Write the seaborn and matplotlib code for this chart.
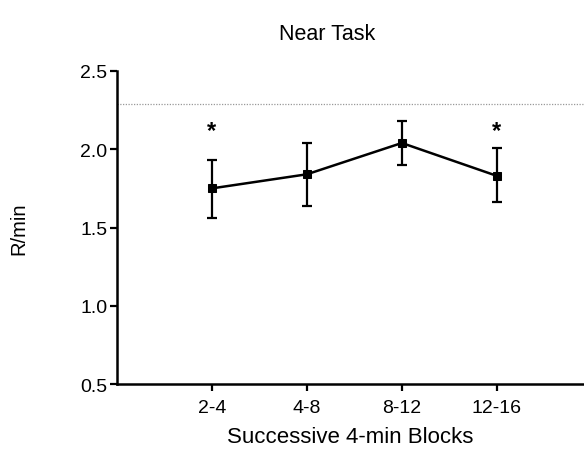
import numpy as np
import pandas as pd
import matplotlib
matplotlib.use('Agg')
import matplotlib.pyplot as plt
import seaborn as sns

# Data
blocks = ['2-4', '4-8', '8-12', '12-16']
rate = [1.75, 1.84, 2.04, 1.83]
err_low = [0.19, 0.20, 0.14, 0.17]
err_high = [0.18, 0.20, 0.14, 0.18]
significant = [True, False, False, True]
reference_level = 2.29
star_y = 2.12

sns.set_style('ticks')
plt.rcParams['font.family'] = ['Liberation Sans', 'DejaVu Sans']
plt.rcParams['text.color'] = 'black'
plt.rcParams['axes.labelcolor'] = 'black'
plt.rcParams['xtick.color'] = 'black'
plt.rcParams['ytick.color'] = 'black'

data = pd.DataFrame({'pos': np.arange(1, len(blocks) + 1), 'rate': rate})

fig = plt.figure(figsize=(5.84, 4.6), dpi=100)
ax = fig.add_axes([0.2003, 0.163, 0.80, 0.6805])

ax.axhline(reference_level, color='#999999', lw=0.9, ls=(0, (1, 1.2)), zorder=1)
ax.errorbar(data['pos'], data['rate'], yerr=[err_low, err_high], fmt='none',
            ecolor='black', elinewidth=1.6, capsize=3.5, capthick=1.6, zorder=2)
sns.lineplot(data=data, x='pos', y='rate', color='black', lw=1.8,
             marker='s', markersize=6, markeredgecolor='black', ax=ax, zorder=3)

for p, sig in zip(data['pos'], significant):
    if sig:
        ax.text(p, star_y, '*', ha='center', va='center', fontsize=17, fontweight='bold')

ax.set_xlim(0, 4.92)
ax.set_ylim(0.5, 2.5)
ax.set_xticks(data['pos'])
ax.set_xticklabels(blocks)
ax.set_yticks([0.5, 1.0, 1.5, 2.0, 2.5])
ax.tick_params(axis='both', labelsize=14, width=1.6, length=5, color='black')
ax.tick_params(axis='x', pad=6)
ax.tick_params(axis='y', pad=2)
for s in ['top', 'right']:
    ax.spines[s].set_visible(False)
for s in ['left', 'bottom']:
    ax.spines[s].set_linewidth(1.8)
    ax.spines[s].set_color('black')

ax.set_xlabel('Successive 4-min Blocks', fontsize=16, labelpad=7)
ax.set_ylabel('R/min', fontsize=14.5)
ax.yaxis.set_label_coords(-0.19, 0.5)
ax.set_title('Near Task', fontsize=15.5, pad=23, x=0.45)

fig.savefig('out.png', dpi=100)
